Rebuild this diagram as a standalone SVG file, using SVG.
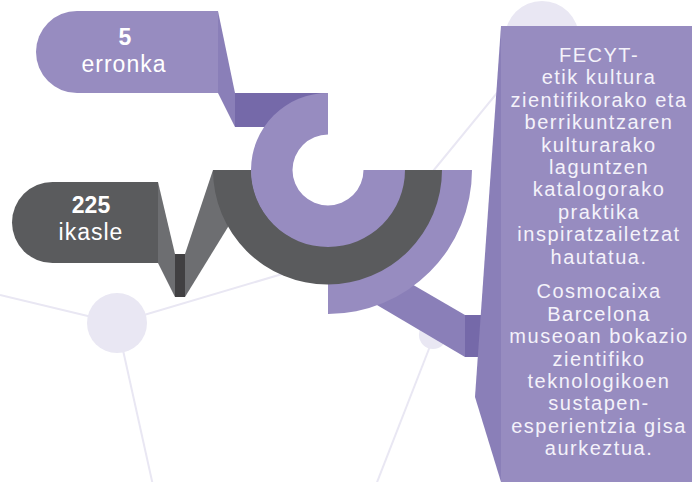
<svg xmlns="http://www.w3.org/2000/svg" width="692" height="482" viewBox="0 0 692 482">
<style>
.bgl{stroke:#E9E7F3;stroke-width:2;fill:none}
.bgc{fill:#E9E7F3}
.pm{fill:#978CC0}
.pf{fill:#8A7FB8}
.pd{fill:#7569A9}
.gm{fill:#5A5B5D}
.gf{fill:#6D6E71}
.gd{fill:#414042}
text{font-family:"Liberation Sans",Arial,sans-serif;fill:#FFFFFF;text-anchor:middle}
.big{font-size:23px;font-weight:700}
.lab{font-size:23px;letter-spacing:1px}
.pt{font-size:20px;letter-spacing:1.5px;fill:#F4F2FA}
</style>
<g id="background">
<line class="bgl" x1="0" y1="295" x2="117" y2="323"/>
<line class="bgl" x1="117" y1="323" x2="370" y2="248"/>
<line class="bgl" x1="117" y1="323" x2="154" y2="490"/>
<line class="bgl" x1="542" y1="38" x2="370" y2="248"/>
<line class="bgl" x1="434" y1="336" x2="374" y2="490"/>
<circle class="bgc" cx="117" cy="323" r="30"/>
<circle class="bgc" cx="542" cy="38" r="37"/>
<circle class="bgc" cx="433" cy="335" r="14"/>
</g>
<g id="node-erronka">
<rect class="pd" x="235" y="93" width="93" height="34"/>
<polygon class="pf" points="218,11 235,93 235,127 218,93"/>
<path class="pm" d="M218,11 H77 A41,41 0 0 0 77,93 H218 Z"/>
<text class="big" x="125" y="45">5</text>
<text class="lab" x="124" y="72">erronka</text>
</g>
<g id="node-ikasle">
<polygon class="gf" points="158,182 175,254 175,297 158,263"/>
<polygon class="gf" points="185,254 213,170 228,170 228,227 185,297"/>
<rect class="gd" x="175" y="254" width="10" height="43"/>
<path class="gm" d="M158,182 H52.5 A40.5,40.5 0 0 0 52.5,263 H158 Z"/>
<text class="big" x="91" y="213">225</text>
<text class="lab" x="91" y="240">ikasle</text>
</g>
<g id="connectors">
<polygon class="pf" points="360,254 465,315 465,357 360,295"/>
<rect class="pd" x="465" y="315" width="16" height="42"/>
</g>
<g id="rings">
<path class="pm" d="M472,170 A144,144 0 0 1 328,314 L328,282 A112,112 0 0 0 440,170 Z"/>
<path class="gm" d="M213,170 A114.5,114.5 0 0 0 442,170 L403.5,170 A76,76 0 0 1 251.5,170 Z"/>
<path class="pm" d="M328,93 A77,77 0 1 0 405,170 L363.5,170 A35.5,35.5 0 1 1 328,134.5 Z"/>
</g>
<g id="node-panel">
<polygon class="pf" points="501,26 475,397 501,482"/>
<rect class="pm" x="501" y="26" width="191" height="456"/>
<text class="pt" x="599" y="62"><tspan x="599">FECYT-</tspan><tspan x="599" dy="22.4">etik kultura</tspan><tspan x="599" dy="22.4">zientifikorako eta</tspan><tspan x="599" dy="22.4">berrikuntzaren</tspan><tspan x="599" dy="22.4">kulturarako</tspan><tspan x="599" dy="22.4">laguntzen</tspan><tspan x="599" dy="22.4">katalogorako</tspan><tspan x="599" dy="22.4">praktika</tspan><tspan x="599" dy="22.4">inspiratzailetzat</tspan><tspan x="599" dy="22.4">hautatua.</tspan></text>
<text class="pt" x="599" y="298.3"><tspan x="599">Cosmocaixa</tspan><tspan x="599" dy="22.4">Barcelona</tspan><tspan x="599" dy="22.4">museoan bokazio</tspan><tspan x="599" dy="22.4">zientifiko</tspan><tspan x="599" dy="22.4">teknologikoen</tspan><tspan x="599" dy="22.4">sustapen-</tspan><tspan x="599" dy="22.4">esperientzia gisa</tspan><tspan x="599" dy="22.4">aurkeztua.</tspan></text>
</g>
</svg>
